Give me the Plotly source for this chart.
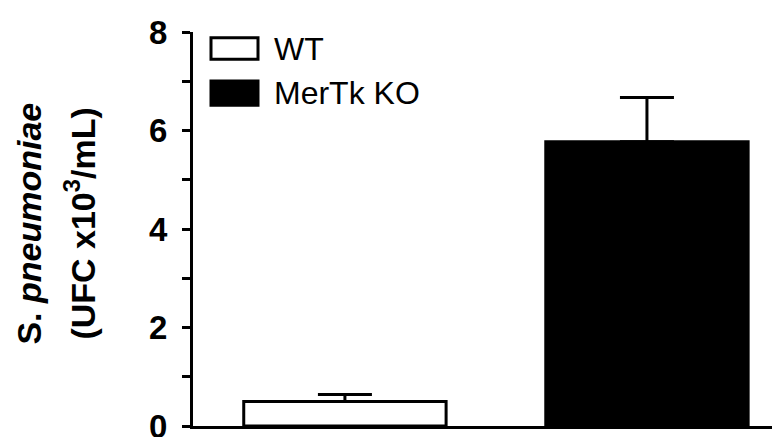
import plotly.graph_objects as go

# Data
categories = ["WT", "MerTk KO"]
means = [0.50, 5.77]
sem = [0.14, 0.90]
fill_colors = ["white", "black"]
major_ticks = [0, 2, 4, 6, 8]
major_labels = ["0", "2", "4", "6", "8"]
minor_ticks = [1, 3, 5, 7]

FONT = "Liberation Sans, Arial, Helvetica, sans-serif"

fig = go.Figure()
for cat, m, e, c in zip(categories, means, sem, fill_colors):
    fig.add_trace(go.Bar(
        x=[cat], y=[m], name=cat, width=0.67,
        marker=dict(color=c, line=dict(color="black", width=3)),
        error_y=dict(type="data", symmetric=False, array=[e], arrayminus=[0],
                     color="black", thickness=3, width=27),
        showlegend=False,
    ))

# Plot area geometry helpers (margins define px mapping)
L, R, T, B = 185, 0, 24, 10
W, H = 780, 437
pw, ph = W - L - R, H - T - B

def px_x(x):
    return (x - L) / pw

def px_y(y):
    return (H - B - y) / ph

# Legend drawn as boxes + labels
legend_boxes = [(203, 30, 250, 52), (203, 74, 250, 99)]
shapes = []
annotations = []
for (x0, y0, x1, y1), cat, c in zip(legend_boxes, categories, fill_colors):
    shapes.append(dict(type="rect", xref="paper", yref="paper",
                       x0=px_x(x0), x1=px_x(x1), y0=px_y(y1), y1=px_y(y0),
                       line=dict(color="black", width=3), fillcolor=c))
    annotations.append(dict(xref="paper", yref="paper", x=px_x(264), y=px_y((y0 + y1) / 2),
                            text=cat, showarrow=False, xanchor="left", yanchor="middle",
                            font=dict(family=FONT, size=32, color="black")))

# Y axis title as two lines
annotations.append(dict(xref="paper", yref="paper", x=px_x(21), y=px_y(220),
                        text="<b>S. <i>pneumoniae</i></b>", textangle=-90, showarrow=False,
                        xanchor="center", yanchor="middle",
                        font=dict(family=FONT, size=34, color="black")))
annotations.append(dict(xref="paper", yref="paper", x=px_x(72), y=px_y(220),
                        text="<b>(UFC x10<sup>3</sup>/mL)</b>", textangle=-90, showarrow=False,
                        xanchor="center", yanchor="middle",
                        font=dict(family=FONT, size=34, color="black")))

fig.update_layout(
    width=W, height=H,
    margin=dict(l=L, r=R, t=T, b=B, pad=0),
    paper_bgcolor="white", plot_bgcolor="white",
    barmode="overlay",
    shapes=shapes, annotations=annotations,
    xaxis=dict(type="category", range=[-0.503, 1.467], showline=True, linecolor="black",
               linewidth=3, showticklabels=False, ticks="", showgrid=False, zeroline=False),
    yaxis=dict(range=[0, 8], showline=True, linecolor="black", linewidth=3,
               tickvals=major_ticks, ticktext=major_labels, ticks="outside", ticklen=8,
               tickwidth=3, tickcolor="black", showgrid=False, zeroline=False,
               ticklabeloverflow="allow", ticklabelstandoff=8,
               minor=dict(tickvals=minor_ticks, ticks="outside", ticklen=8, tickwidth=3,
                          tickcolor="black", showgrid=False),
               tickfont=dict(family=FONT, size=33, color="black", weight="bold")),
)

fig.write_html("out.html")
